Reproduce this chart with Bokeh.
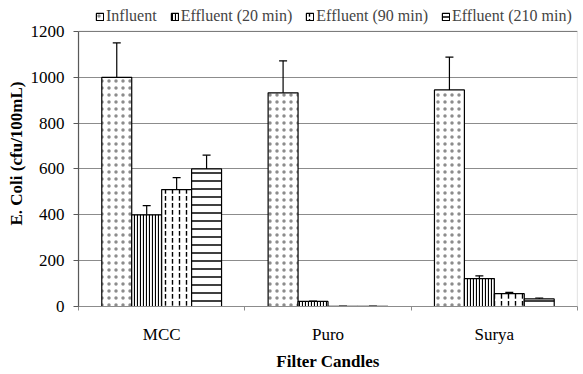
import numpy as np
from bokeh.plotting import figure
from bokeh.models import (ColumnDataSource, Range1d, FixedTicker, Whisker, TeeHead,
                          Legend, LegendItem, BoxAnnotation)
from bokeh.transform import dodge
from bokeh.embed import file_html
from bokeh.resources import INLINE

categories = ["MCC", "Puro", "Surya"]
series = ["Influent", "Effluent (20 min)", "Effluent (90 min)", "Effluent (210 min)"]
influent = [1000, 932, 945]
eff_20 = [400, 22, 122]
eff_90 = [510, 1, 56]
eff_210 = [600, 1, 33]
err_influent = [150, 140, 143]
err_20 = [40, 2, 12]
err_90 = [52, 0, 6]
err_210 = [60, 0, 4]
y_ticks = [0, 200, 400, 600, 800, 1000, 1200]
y_max = 1200

values = [influent, eff_20, eff_90, eff_210]
errors = [err_influent, err_20, err_90, err_210]
# (pattern, scale, weight, alpha)
hatches = [("dot", 7, 0.5, 0.45), ("vertical_line", 3, 1.2, 1.0),
           ("vertical_dash", 7, 1.4, 1.0), ("horizontal_line", 8, 1.5, 1.0)]
offsets = [-0.27, -0.09, 0.09, 0.27]
bar_w = 0.18

SERIF = "Liberation Serif"

# frame top at the window top; 0..1200 occupies the lower 275 px
p = figure(width=583, height=374, output_backend="svg", toolbar_location=None,
           x_range=Range1d(0, len(categories)), y_range=Range1d(0, 1335))
p.min_border_left = 78
p.min_border_right = 6
p.min_border_top = 0
p.min_border_bottom = 68
p.background_fill_color = "white"
p.border_fill_color = "white"
p.outline_line_color = None

frame_box = BoxAnnotation(left=0, right=len(categories), bottom=0, top=y_max,
                          fill_alpha=0, line_color="#595959", line_width=1.2,
                          level="underlay")
p.add_layout(frame_box)

centers = np.arange(len(categories)) + 0.5
items = []
for i, name in enumerate(series):
    vals = np.array(values[i], dtype=float)
    errs = np.array(errors[i], dtype=float)
    src = ColumnDataSource(dict(x=centers, top=vals, upper=vals + errs, lower=vals - errs))
    pat, sc, wt, al = hatches[i]
    r = p.vbar(x=dodge("x", offsets[i]), top="top", width=bar_w, source=src,
               fill_color="white", line_color="black", line_width=1.2,
               hatch_pattern=pat, hatch_scale=sc, hatch_weight=wt,
               hatch_color="black", hatch_alpha=al)
    items.append(LegendItem(label=name, renderers=[r]))
    w = Whisker(base=dodge("x", offsets[i]), upper="upper", lower="lower", source=src,
                line_color="black", line_width=1.2,
                upper_head=TeeHead(size=8, line_color="black", line_width=1.2),
                lower_head=TeeHead(size=8, line_color="black", line_width=1.2))
    p.add_layout(w)

legend = Legend(items=items, orientation="horizontal", location=(17, 281),
                label_text_font=SERIF, label_text_font_size="16px",
                glyph_width=9, glyph_height=9, label_standoff=2, spacing=13,
                padding=0, margin=0, border_line_color=None,
                background_fill_alpha=0, label_height=14)
p.add_layout(legend)

# x axis
xa = p.xaxis[0]
xa.ticker = FixedTicker(ticks=list(centers), minor_ticks=list(range(len(categories) + 1)))
xa.major_label_overrides = {float(c): cat for c, cat in zip(centers, categories)}
xa.major_tick_line_color = None
xa.minor_tick_line_color = "#8c8c8c"
xa.minor_tick_out = 4
xa.minor_tick_in = 0
xa.axis_line_color = "#8c8c8c"
xa.major_label_standoff = 12
xa.major_label_text_font = SERIF
xa.major_label_text_font_size = "17px"
xa.major_label_text_color = "black"
xa.axis_label = "Filter Candles"
xa.axis_label_text_font = SERIF
xa.axis_label_text_font_style = "bold"
xa.axis_label_text_font_size = "17px"
xa.axis_label_text_color = "black"
xa.axis_label_standoff = 5

ya = p.yaxis[0]
ya.ticker = FixedTicker(ticks=y_ticks)
ya.bounds = (0, y_max)
ya.minor_tick_line_color = None
ya.major_tick_out = 5
ya.major_tick_in = 0
ya.major_tick_line_color = "#595959"
ya.axis_line_color = "#595959"
ya.axis_line_width = 1.2
ya.major_label_standoff = 9
ya.major_label_text_font = SERIF
ya.major_label_text_font_size = "17px"
ya.major_label_text_color = "black"
ya.axis_label = "E. Coli (cfu/100mL)"
ya.axis_label_text_font = SERIF
ya.axis_label_text_font_style = "bold"
ya.axis_label_text_font_size = "17px"
ya.axis_label_text_color = "black"
ya.axis_label_standoff = 2

p.xgrid.grid_line_color = None
p.ygrid.grid_line_color = "#8c8c8c"
p.ygrid.grid_line_width = 1

open("out.html", "w").write(file_html(p, INLINE))
